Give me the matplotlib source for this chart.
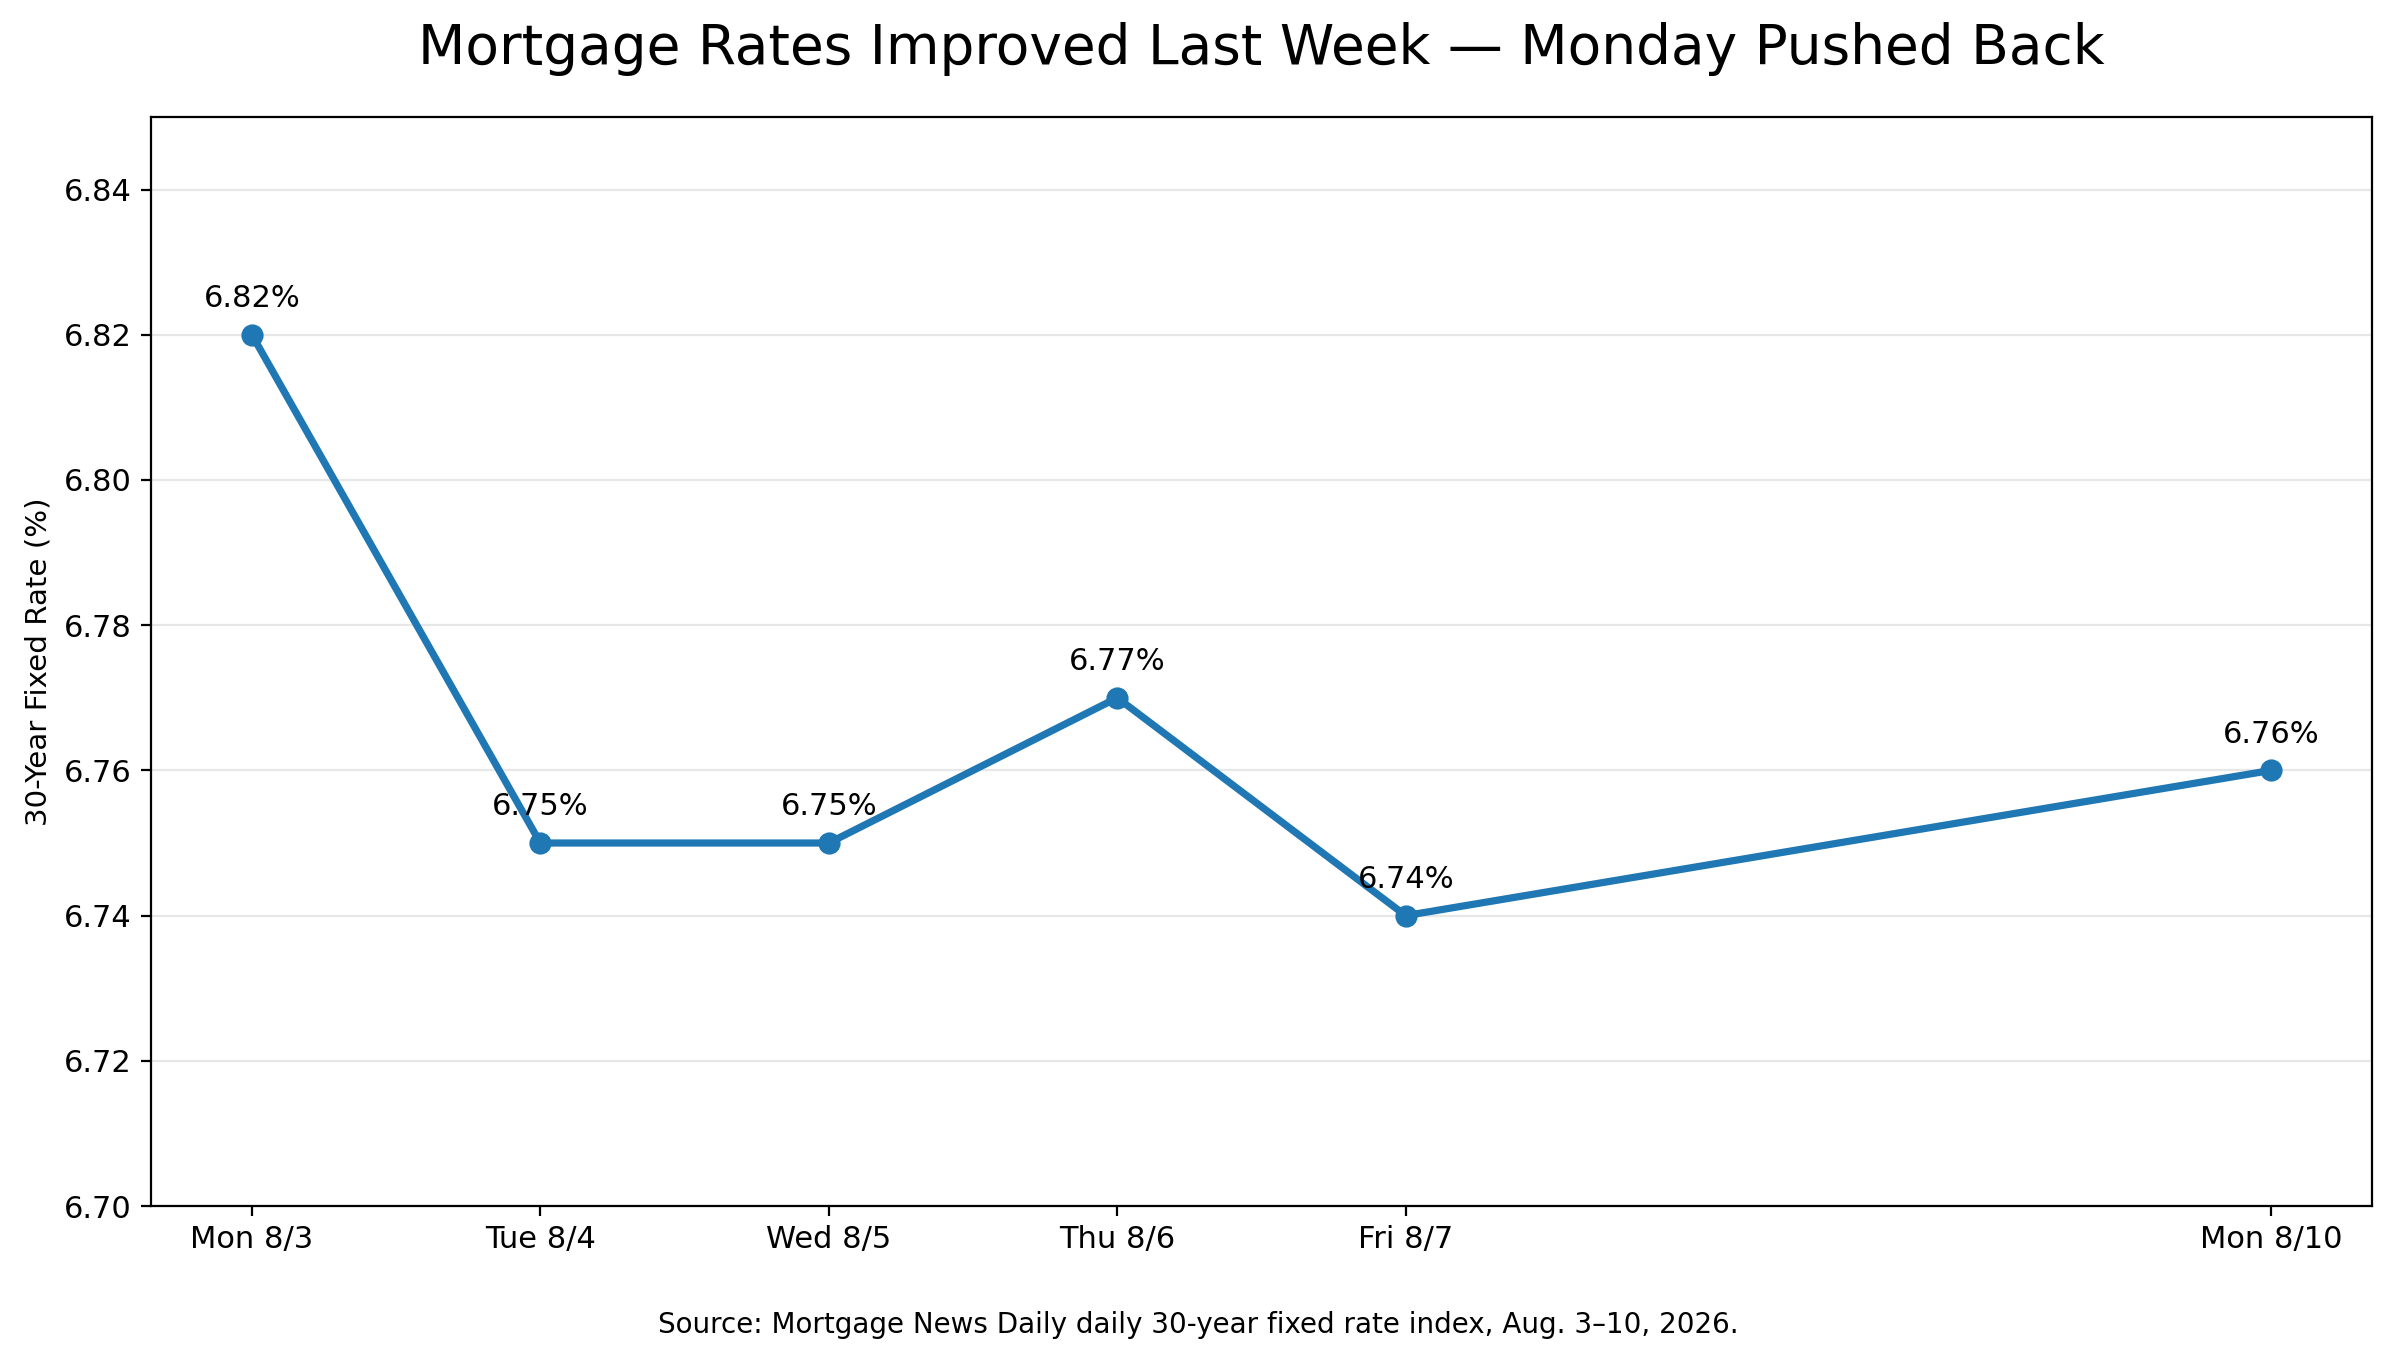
import pandas as pd
import matplotlib.pyplot as plt

# --- Data ---
dates = pd.to_datetime(['2026-08-03', '2026-08-04', '2026-08-05',
                        '2026-08-06', '2026-08-07', '2026-08-10'])
tick_labels = ['Mon 8/3', 'Tue 8/4', 'Wed 8/5', 'Thu 8/6', 'Fri 8/7', 'Mon 8/10']
rates = [6.82, 6.75, 6.75, 6.77, 6.74, 6.76]
y_ticks = [6.70, 6.72, 6.74, 6.76, 6.78, 6.80, 6.82, 6.84]

# --- Plot ---
fig, ax = plt.subplots(figsize=(11.98, 6.8), dpi=200)
fig.subplots_adjust(left=0.063, right=0.990, bottom=0.1132, top=0.914)

ax.plot(dates, rates, color='#1f77b4', linewidth=2.6, marker='o', markersize=7)

# value labels above each point
for d, r in zip(dates, rates):
    ax.annotate(f'{r:.2f}%', (d, r), xytext=(0, 10), textcoords='offset points',
                ha='center', va='baseline', fontsize=11)

ax.set_xticks(dates)
ax.set_xticklabels(tick_labels)
ax.set_ylim(6.70, 6.85)
ax.set_yticks(y_ticks)
ax.set_yticklabels([f'{t:.2f}' for t in y_ticks])
ax.tick_params(axis='both', labelsize=11)

ax.set_ylabel('30-Year Fixed Rate (%)', fontsize=10.6)
ax.set_title('Mortgage Rates Improved Last Week \u2014 Monday Pushed Back',
             fontsize=19.8, pad=19)
ax.grid(axis='y', alpha=0.3)

fig.text(0.5, 0.02, 'Source: Mortgage News Daily daily 30-year fixed rate index, Aug. 3\u201310, 2026.',
         ha='center', va='baseline', fontsize=10)

fig.savefig('out.png', dpi=200)
